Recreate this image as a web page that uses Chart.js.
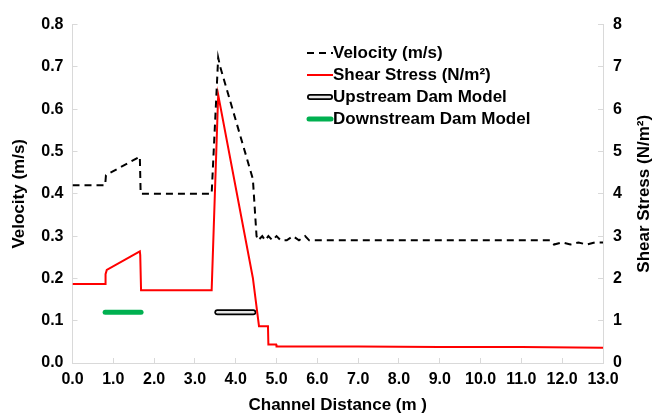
<!DOCTYPE html>
<html>
<head>
<meta charset="utf-8">
<script src="https://cdn.jsdelivr.net/npm/chart.js@4.4.1/dist/chart.umd.min.js"></script>
<style>
	html, body { margin: 0; padding: 0; background: #ffffff; }
	#wrap { width: 654px; height: 416px; }
</style>
</head>
<body>
<div id="wrap"><canvas id="FlowChart"></canvas></div>
<script>
// values
const velocity_x = [0, 0.8, 0.82, 1.65, 1.67, 3.41, 3.57, 3.62, 4.42, 4.51, 4.55, 4.65, 4.72, 4.8, 4.9, 5.0, 5.1, 5.25, 5.4, 5.55, 5.7, 5.8, 6.5, 8.0, 9.5, 11.0, 11.7, 11.8, 12.0, 12.2, 12.4, 12.6, 12.8, 13.0];
const velocity_y = [0.42, 0.42, 0.444, 0.488, 0.40, 0.40, 0.722, 0.70, 0.435, 0.30, 0.29, 0.30, 0.29, 0.30, 0.29, 0.30, 0.29, 0.29, 0.30, 0.29, 0.30, 0.29, 0.29, 0.29, 0.29, 0.29, 0.29, 0.28, 0.285, 0.28, 0.285, 0.28, 0.285, 0.285];

const stress_x = [0, 0.8, 0.81, 0.84, 1.65, 1.66, 1.68, 3.41, 3.57, 4.42, 4.57, 4.79, 4.8, 4.99, 5.0, 7.0, 9.0, 11.0, 13.0];
const stress_y = [1.87, 1.87, 2.1, 2.2, 2.64, 2.55, 1.72, 1.72, 6.34, 2.01, 0.87, 0.87, 0.44, 0.44, 0.39, 0.39, 0.38, 0.38, 0.36];

const upstream_dam_x = [3.55, 4.43];
const downstream_dam_x = [0.8, 1.68];
const dam_level = 0.12;

const x_ticks = [0, 1, 2, 3, 4, 5, 6, 7, 8, 9, 10, 11, 12, 13];
const legend_labels = ["Velocity (m/s)", "Shear Stress (N/m\u00B2)", "Upstream Dam Model", "Downstream Dam Model"];

function to_points(xs, ys) {
	return xs.map((x, i) => ({ x: x, y: ys[i] }));
}

function dam_points(xs) {
	return xs.map((x) => ({ x: x, y: dam_level }));
}

const FONT = "'Liberation Sans', Arial, sans-serif";
const AXIS_GREY = "#d9d9d9";
const DAM_FILL = "#e6e6e6";

// legend and right-hand title drawn by hand so they sit like the original
const extras_plugin = {
	id: "extras",
	afterDraw(chart) {
		const ctx = chart.ctx;
		const area = chart.chartArea;
		ctx.save();

		// right axis title, reading bottom to top
		ctx.font = "bold 17px " + FONT;
		ctx.fillStyle = "#000";
		ctx.textAlign = "center";
		ctx.textBaseline = "middle";
		ctx.translate(644, (area.top + area.bottom) / 2);
		ctx.rotate(-Math.PI / 2);
		ctx.fillText("Shear Stress (N/m\u00B2)", 0, 0);
		ctx.restore();

		ctx.save();
		const lx = 307;
		const ly = 53;
		const row = 22;
		ctx.font = "bold 17px " + FONT;
		ctx.textAlign = "left";
		ctx.textBaseline = "middle";
		ctx.lineCap = "butt";
		for (let i = 0; i < legend_labels.length; i++) {
			const y = ly + i * row;
			ctx.beginPath();
			if (i === 0) {
				ctx.setLineDash([7, 5]);
				ctx.strokeStyle = "#000";
				ctx.lineWidth = 2;
				ctx.moveTo(lx, y);
				ctx.lineTo(lx + 26, y);
				ctx.stroke();
			} else if (i === 1) {
				ctx.setLineDash([]);
				ctx.strokeStyle = "#ff0000";
				ctx.lineWidth = 2;
				ctx.moveTo(lx, y);
				ctx.lineTo(lx + 26, y);
				ctx.stroke();
			} else if (i === 2) {
				ctx.setLineDash([]);
				ctx.lineCap = "round";
				ctx.strokeStyle = "#000";
				ctx.lineWidth = 6;
				ctx.moveTo(lx + 3, y);
				ctx.lineTo(lx + 23, y);
				ctx.stroke();
				ctx.beginPath();
				ctx.strokeStyle = DAM_FILL;
				ctx.lineWidth = 2.5;
				ctx.moveTo(lx + 3, y);
				ctx.lineTo(lx + 23, y);
				ctx.stroke();
				ctx.lineCap = "butt";
			} else {
				ctx.setLineDash([]);
				ctx.lineCap = "round";
				ctx.strokeStyle = "#00b050";
				ctx.lineWidth = 5;
				ctx.moveTo(lx + 2, y);
				ctx.lineTo(lx + 24, y);
				ctx.stroke();
				ctx.lineCap = "butt";
			}
			ctx.fillStyle = "#000";
			ctx.fillText(legend_labels[i], lx + 26, y);
		}
		ctx.restore();
	},
};

// chart.js paints the first dataset last, so the top layer comes first here
new Chart(document.getElementById("FlowChart").getContext("2d"), {
	type: "line",
	data: {
		datasets: [
			{
				label: "Velocity (m/s)",
				data: to_points(velocity_x, velocity_y),
				yAxisID: "yV",
				borderColor: "#000",
				borderWidth: 2,
				borderDash: [7, 5],
				pointRadius: 0,
				tension: 0,
			},
			{
				label: "Shear Stress (N/m\u00B2)",
				data: to_points(stress_x, stress_y),
				yAxisID: "yS",
				borderColor: "#ff0000",
				borderWidth: 2,
				pointRadius: 0,
				tension: 0,
			},
			{
				label: "Upstream Dam Model inner",
				data: dam_points(upstream_dam_x),
				yAxisID: "yV",
				borderColor: DAM_FILL,
				borderWidth: 2.5,
				borderCapStyle: "round",
				pointRadius: 0,
			},
			{
				label: "Upstream Dam Model",
				data: dam_points(upstream_dam_x),
				yAxisID: "yV",
				borderColor: "#000",
				borderWidth: 6,
				borderCapStyle: "round",
				pointRadius: 0,
			},
			{
				label: "Downstream Dam Model",
				data: dam_points(downstream_dam_x),
				yAxisID: "yV",
				borderColor: "#00b050",
				borderWidth: 5,
				borderCapStyle: "round",
				pointRadius: 0,
			},
		],
	},
	options: {
		responsive: true,
		maintainAspectRatio: false,
		animation: false,
		layout: { padding: { top: 21, left: 0, right: 0, bottom: 0 } },
		plugins: {
			legend: { display: false },
			tooltip: { enabled: false },
		},
		scales: {
			x: {
				type: "linear",
				min: 0,
				max: 13,
				afterBuildTicks: (scale) => {
					scale.ticks = x_ticks.map((v) => ({ value: v }));
				},
				afterFit: (scale) => {
					scale.height = 53;
				},
				ticks: {
					callback: (v) => v.toFixed(1),
					color: "#000",
					font: { family: FONT, size: 16, weight: "bold" },
					padding: 12,
					maxRotation: 0,
					autoSkip: false,
				},
				grid: { drawOnChartArea: false, color: AXIS_GREY, tickLength: -5 },
				border: { color: AXIS_GREY, width: 1 },
				title: {
					display: true,
					text: "Channel Distance (m )",
					color: "#000",
					font: { family: FONT, size: 17, weight: "bold" },
					padding: { top: 0, bottom: 0 },
				},
			},
			yV: {
				position: "left",
				min: 0,
				max: 0.8,
				ticks: {
					stepSize: 0.1,
					callback: (v) => v.toFixed(1),
					color: "#000",
					font: { family: FONT, size: 16, weight: "bold" },
					padding: 14,
				},
				afterFit: (scale) => {
					scale.width = 72.5;
				},
				grid: { drawOnChartArea: false, color: AXIS_GREY, tickLength: -5 },
				border: { color: AXIS_GREY, width: 1 },
				title: {
					display: true,
					text: "Velocity (m/s)",
					color: "#000",
					font: { family: FONT, size: 17, weight: "bold" },
					padding: { top: 9, bottom: 0 },
				},
			},
			yS: {
				position: "right",
				min: 0,
				max: 8,
				ticks: {
					stepSize: 1,
					color: "#000",
					font: { family: FONT, size: 16, weight: "bold" },
					padding: 15,
				},
				afterFit: (scale) => {
					scale.width = 51;
				},
				grid: { drawOnChartArea: false, color: AXIS_GREY, tickLength: -5 },
				border: { color: AXIS_GREY, width: 1 },
			},
		},
	},
	plugins: [extras_plugin],
});
</script>
</body>
</html>
